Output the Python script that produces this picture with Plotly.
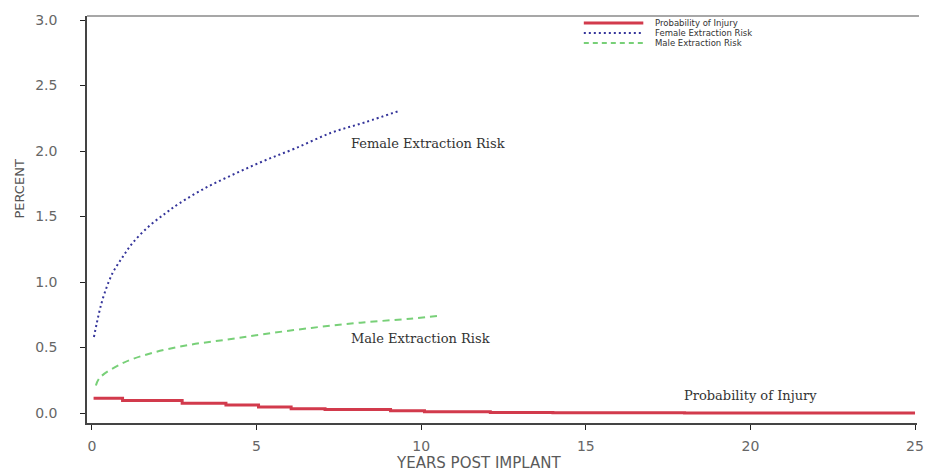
import plotly.graph_objects as go

# ---- data ----
female_x = [0.06, 0.15, 0.24, 0.39, 0.63, 0.93, 1.24, 1.75, 2.26, 2.65, 3.46, 4.37, 5.27, 6.17, 7.27, 8.3, 9.37]
female_y = [0.58, 0.69, 0.79, 0.92, 1.07, 1.19, 1.30, 1.43, 1.53, 1.60, 1.72, 1.83, 1.93, 2.02, 2.14, 2.22, 2.31]

male_x = [0.12, 0.24, 0.93, 1.84, 2.95, 4.07, 5.15, 6.66, 8.16, 9.67, 10.48]
male_y = [0.21, 0.27, 0.38, 0.46, 0.52, 0.56, 0.60, 0.65, 0.69, 0.72, 0.74]

injury_x = [0.05, 0.93, 2.74, 4.07, 5.06, 6.05, 7.08, 9.07, 10.1, 12.1, 14.0, 18.0, 25.0]
injury_y = [0.112, 0.095, 0.075, 0.062, 0.046, 0.033, 0.028, 0.018, 0.009, 0.004, 0.002, 0.0, 0.0]

x_ticks = [0, 5, 10, 15, 20, 25]
y_ticks = [0.0, 0.5, 1.0, 1.5, 2.0, 2.5, 3.0]
y_tick_labels = ["0.0", "0.5", "1.0", "1.5", "2.0", "2.5", "3.0"]

series_names = ["Probability of Injury", "Female Extraction Risk", "Male Extraction Risk"]

RED = "#d23a4c"
BLUE = "#34349a"
GREEN = "#78d078"

fig = go.Figure()
fig.add_trace(go.Scatter(x=injury_x, y=injury_y, mode="lines", line_shape="hv",
                         line=dict(color=RED, width=3), name=series_names[0]))
fig.add_trace(go.Scatter(x=female_x, y=female_y, mode="lines", line_shape="spline",
                         line=dict(color=BLUE, width=2, dash="2px,3px"), name=series_names[1]))
fig.add_trace(go.Scatter(x=male_x, y=male_y, mode="lines", line_shape="spline",
                         line=dict(color=GREEN, width=2, dash="7px,5px"), name=series_names[2]))

W, H = 926, 471
L, R, T, B = 87, 2, 16, 48
pw, ph = W - L - R, H - T - B

def px(xp):
    return (xp - L) / pw

def py(yp):
    return (H - B - yp) / ph

# top frame line (lighter gray, as in the reference)
shapes = [dict(type="line", xref="paper", yref="paper", x0=0, x1=px(926), y0=1, y1=1,
               line=dict(color="#8a8a8a", width=1.5))]
annotations = []

# manual compact legend (top right)
leg_rows = [(series_names[0], RED, "solid", 3, 23),
            (series_names[1], BLUE, "2px,3px", 2, 33),
            (series_names[2], GREEN, "5px,4px", 2, 43)]
for name, col, dash, wd, yrow in leg_rows:
    shapes.append(dict(type="line", xref="paper", yref="paper",
                       x0=px(588), x1=px(648), y0=py(yrow), y1=py(yrow),
                       line=dict(color=col, width=wd, dash=dash)))
    annotations.append(dict(xref="paper", yref="paper", x=px(659), y=py(yrow),
                            text=name, showarrow=False, xanchor="left", yanchor="middle",
                            borderpad=0,
                            font=dict(family="DejaVu Sans", size=8.5, color="#333333")))

serif = dict(family="DejaVu Serif", size=13, color="#333333")
annotations += [
    dict(x=7.8, y=2.06, text="Female Extraction Risk", showarrow=False,
         xanchor="left", yanchor="middle", font=serif),
    dict(x=7.8, y=0.57, text="Male Extraction Risk", showarrow=False,
         xanchor="left", yanchor="middle", font=serif),
    dict(x=17.92, y=0.137, text="Probability of Injury", showarrow=False,
         xanchor="left", yanchor="middle", font=serif),
    dict(xref="paper", yref="paper", x=px(18), y=py(189), text="PERCENT",
         textangle=-90, showarrow=False, xanchor="center", yanchor="middle",
         font=dict(family="DejaVu Sans", size=13, color="#555555")),
    dict(xref="x", yref="paper", x=11.75, y=py(463), text="YEARS POST IMPLANT",
         showarrow=False, xanchor="center", yanchor="middle",
         font=dict(family="DejaVu Sans", size=15, color="#5a5a5a")),
]

fig.update_layout(
    width=W, height=H,
    margin=dict(l=L, r=R, t=T, b=B),
    paper_bgcolor="white", plot_bgcolor="white",
    showlegend=False,
    shapes=shapes,
    annotations=annotations,
    xaxis=dict(range=[-0.15, 25.06], tickvals=x_ticks, ticks="outside", ticklen=5,
               tickcolor="#222222", showline=True, linecolor="#444444", linewidth=1.5,
               showgrid=False, zeroline=False, ticklabelstandoff=4,
               ticklabeloverflow="allow",
               tickfont=dict(family="DejaVu Sans", size=14, color="#666666")),
    yaxis=dict(range=[-0.076, 3.031], tickvals=y_ticks, ticktext=y_tick_labels,
               ticks="outside", ticklen=5, tickcolor="#222222", showline=True,
               linecolor="#444444", linewidth=1.5, showgrid=False, zeroline=False,
               ticklabelstandoff=20,
               tickfont=dict(family="DejaVu Sans", size=14, color="#666666")),
)

fig.write_html("out.html", config={"displayModeBar": False},
               post_script="document.body.style.margin='0px';document.body.style.overflow='hidden';")
